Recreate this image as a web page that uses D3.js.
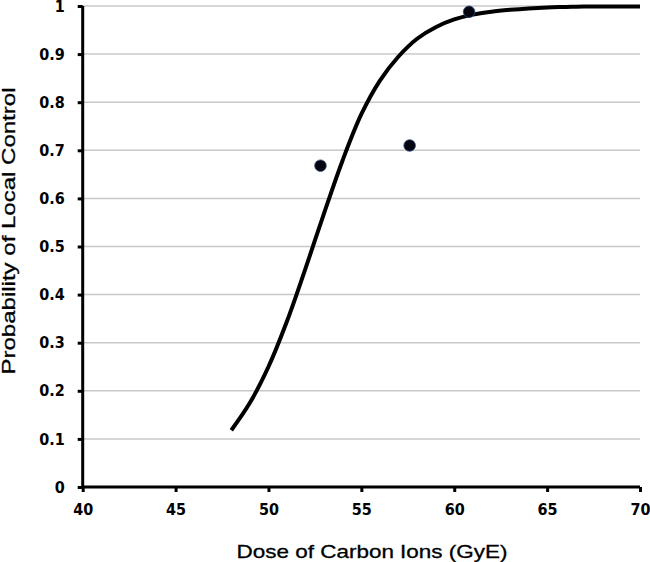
<!DOCTYPE html>
<html lang="en">
<head>
    <meta charset="UTF-8">
    <title>Dose response</title>
    <script src="https://cdn.jsdelivr.net/npm/d3@7/dist/d3.min.js"></script>
    <style>
        body { margin: 0; background: #fff; }
    </style>
</head>
<body>
<script>
    // data
    const doses = [48, 49, 50, 51, 52, 53, 54, 55, 56, 57, 58, 59, 60, 61, 62, 63, 64, 65, 66, 67, 68, 69, 70];
    const fitProb = [0.118, 0.175, 0.25, 0.345, 0.455, 0.57, 0.68, 0.775, 0.845, 0.895, 0.932, 0.956, 0.972,
        0.982, 0.988, 0.992, 0.995, 0.997, 0.998, 0.999, 0.999, 0.999, 0.999];
    const obsDose = [52.8, 57.6, 60.8];
    const obsProb = [0.668, 0.71, 0.988];
    const xTicks = [40, 45, 50, 55, 60, 65, 70];
    const yTicks = [0, 0.1, 0.2, 0.3, 0.4, 0.5, 0.6, 0.7, 0.8, 0.9, 1];

    const width = 650;
    const height = 562;
    const margin = {left: 82.7, right: 10, top: 6, bottom: 75};

    const svg = d3.select('body')
        .append('svg')
        .attr('width', width)
        .attr('height', height);

    const x = d3.scaleLinear().domain([40, 70]).range([margin.left, width - margin.right]);
    const y = d3.scaleLinear().domain([0, 1]).range([height - margin.bottom, margin.top]);

    // gridlines
    svg.append('g')
        .selectAll('line')
        .data(yTicks.filter(d => d > 0))
        .enter()
        .append('line')
        .attr('x1', x(40))
        .attr('x2', x(70))
        .attr('y1', d => y(d))
        .attr('y2', d => y(d))
        .attr('stroke', '#c8c8c8')
        .attr('stroke-width', 1.5);

    const tickFont = 'DejaVu Sans Condensed, DejaVu Sans, sans-serif';

    // y axis
    const yAxis = svg.append('g')
        .attr('transform', `translate(${x(40)},0)`)
        .call(d3.axisLeft(y).tickValues(yTicks).tickFormat(d => String(+d.toFixed(1))).tickSize(5).tickPadding(13));
    yAxis.select('.domain').attr('stroke-width', 3).attr('d', `M0,${y(0)}V${y(1)}`);
    yAxis.selectAll('.tick line').attr('stroke-width', 3);
    yAxis.selectAll('.tick text')
        .attr('font-family', tickFont)
        .attr('font-weight', 'bold')
        .attr('font-size', 16)
        .attr('fill', '#000');

    // x axis
    const xAxis = svg.append('g')
        .attr('transform', `translate(0,${y(0)})`)
        .call(d3.axisBottom(x).tickValues(xTicks).tickSize(5).tickPadding(12));
    xAxis.select('.domain').attr('stroke-width', 3).attr('d', `M${x(40)},0H${x(70)}`);
    xAxis.selectAll('.tick line').attr('stroke-width', 3);
    xAxis.selectAll('.tick text')
        .attr('font-family', tickFont)
        .attr('font-weight', 'bold')
        .attr('font-size', 16)
        .attr('fill', '#000');

    // fitted curve
    const line = d3.line()
        .x((d, i) => x(doses[i]))
        .y(d => y(d))
        .curve(d3.curveCatmullRom);

    svg.append('path')
        .datum(fitProb)
        .attr('fill', 'none')
        .attr('stroke', '#000')
        .attr('stroke-width', 4)
        .attr('stroke-linejoin', 'round')
        .attr('d', line);

    // observed points
    svg.append('g')
        .selectAll('circle')
        .data(obsProb)
        .enter()
        .append('circle')
        .attr('cx', (d, i) => x(obsDose[i]))
        .attr('cy', d => y(d))
        .attr('r', 5.8)
        .attr('fill', '#050510')
        .attr('stroke', '#2a4a7a')
        .attr('stroke-width', 0.8);

    // axis titles
    svg.append('text')
        .attr('x', 372)
        .attr('y', 558)
        .attr('text-anchor', 'middle')
        .attr('font-family', 'Liberation Sans, Arial, sans-serif')
        .attr('font-size', 19)
        .attr('textLength', 271)
        .attr('lengthAdjust', 'spacingAndGlyphs')
        .attr('fill', '#000')
        .attr('stroke', '#000')
        .attr('stroke-width', 0.3)
        .text('Dose of Carbon Ions (GyE)');

    svg.append('text')
        .attr('transform', 'translate(15,231) rotate(-90)')
        .attr('text-anchor', 'middle')
        .attr('font-family', 'Liberation Sans, Arial, sans-serif')
        .attr('font-size', 19)
        .attr('textLength', 287)
        .attr('lengthAdjust', 'spacingAndGlyphs')
        .attr('fill', '#000')
        .attr('stroke', '#000')
        .attr('stroke-width', 0.3)
        .text('Probability of Local Control');
</script>
</body>
</html>
